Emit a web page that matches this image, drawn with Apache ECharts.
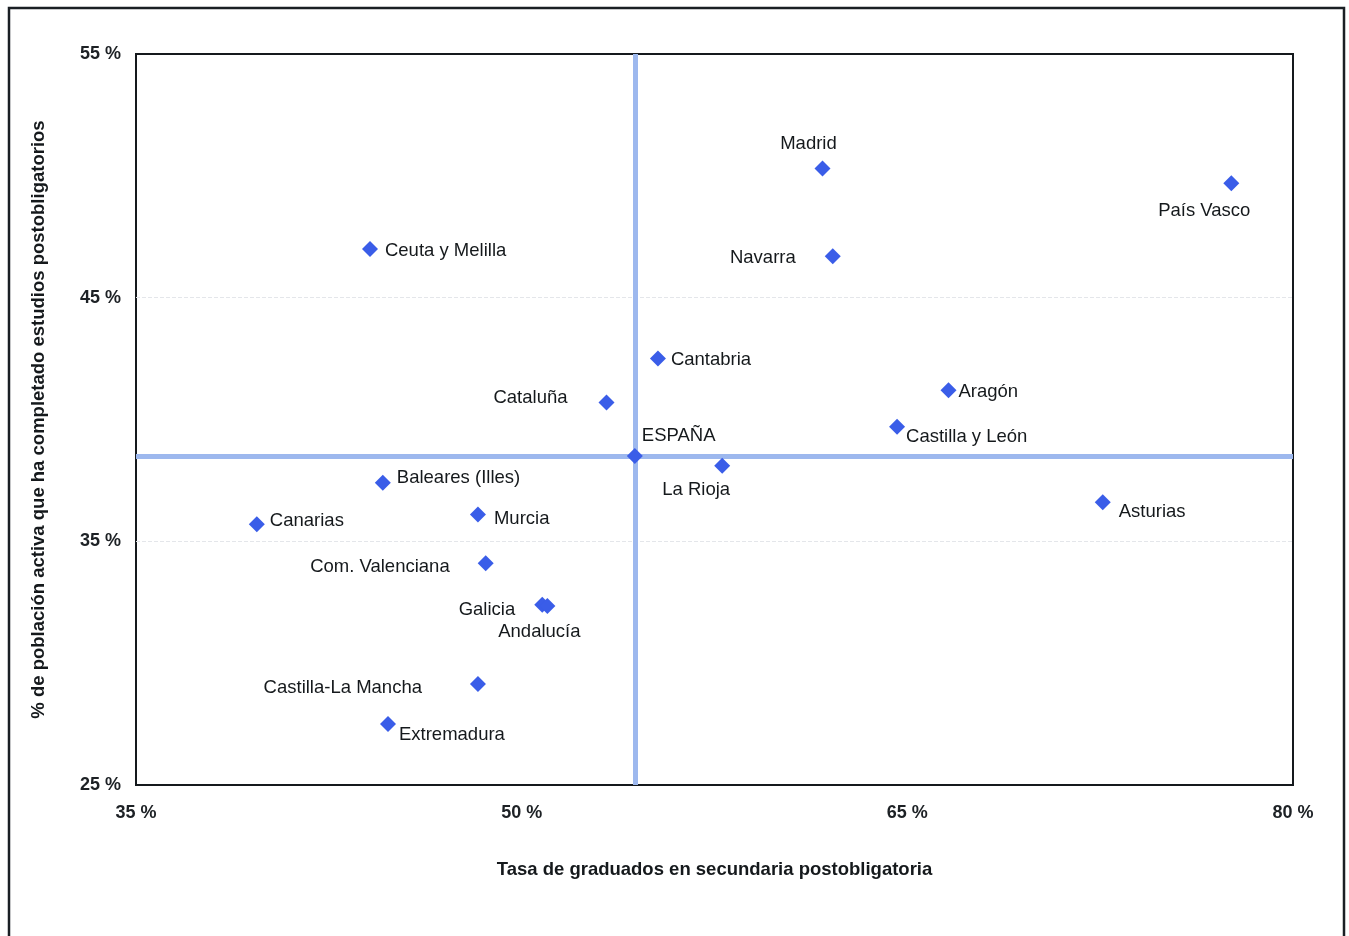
<!DOCTYPE html>
<html><head><meta charset="utf-8">
<script src="https://cdn.jsdelivr.net/npm/echarts@6/dist/echarts.min.js"></script>
<style>html,body{margin:0;padding:0;background:#fff}#c{width:1349px;height:936px}</style>
</head><body><div id="c"></div>
<script>
const regions = ["Madrid","País Vasco","Ceuta y Melilla","Navarra","Cantabria","Aragón","Cataluña","Castilla y León","ESPAÑA","La Rioja","Baleares (Illes)","Asturias","Murcia","Canarias","Com. Valenciana","Galicia","Andalucía","Castilla-La Mancha","Extremadura"];
const graduados = [61.7,77.6,44.1,62.1,55.3,66.6,53.3,64.6,54.4,57.8,44.6,72.6,48.3,39.7,48.6,50.8,51.0,48.3,44.8];
const poblacion = [50.3,49.7,47.0,46.7,42.5,41.2,40.7,39.7,38.5,38.1,37.4,36.6,36.1,35.7,34.1,32.4,32.35,29.15,27.5];
const espanaX = 54.4, espanaY = 38.5;
const xTicks = [35,50,65,80];
const yTicks = [25,35,45,55];
const gridValues = [35,45];

// label placement: [align, dx, dy]
const labelLayout = {
 "Madrid":["center",-14,-26],"País Vasco":["center",-27,26],"Ceuta y Melilla":["left",15,0],
 "Navarra":["right",-37,0],"Cantabria":["left",13,0],"Aragón":["left",10,0],"Cataluña":["right",-39,-6],
 "Castilla y León":["left",9,9],"ESPAÑA":["left",7,-22],"La Rioja":["center",-26,23],
 "Baleares (Illes)":["left",14,-6],"Asturias":["left",16,8],"Murcia":["left",16,3],"Canarias":["left",13,-5],
 "Com. Valenciana":["right",-36,2],"Galicia":["right",-27,4],"Andalucía":["center",-8,25],
 "Castilla-La Mancha":["right",-56,3],"Extremadura":["left",11,9]
};

const font = '"Liberation Sans", Arial, sans-serif';
const data = regions.map((r,i)=>{
  const l = labelLayout[r];
  return {name:r,value:[graduados[i],poblacion[i]],
    label:{show:true,position:'inside',align:l[0],verticalAlign:'middle',offset:[l[1],l[2]+1.5],formatter:r,
      fontFamily:font,fontSize:18.5,color:'#15191c'}};
});

const chart = echarts.init(document.getElementById('c'));
chart.setOption({
  backgroundColor:'#fff',
  animation:false,
  graphic:[{type:'rect',shape:{x:9,y:8,width:1335,height:940},style:{fill:'none',stroke:'#1a1f24',lineWidth:2.5},z:-1}],
  grid:{left:136,right:56,top:54,bottom:151,show:true,borderColor:'#15191d',borderWidth:2,backgroundColor:'transparent'},
  xAxis:{type:'value',min:35,max:80,interval:15,
    name:'Tasa de graduados en secundaria postobligatoria',nameLocation:'middle',nameGap:75,
    nameTextStyle:{fontFamily:font,fontSize:18.5,fontWeight:'bold',color:'#15191c'},
    axisLine:{show:false},axisTick:{show:false},splitLine:{show:false},
    axisLabel:{margin:19,fontFamily:font,fontSize:18,fontWeight:'bold',color:'#1d2125',
      formatter:v=>xTicks.includes(v)?v+' %':''}},
  yAxis:{type:'value',min:25,max:55,interval:10,
    name:'% de población activa que ha completado estudios postobligatorios',nameLocation:'middle',nameGap:88,
    nameTextStyle:{fontFamily:font,fontSize:18.5,fontWeight:'bold',color:'#15191c'},
    axisLine:{show:false},axisTick:{show:false},splitLine:{show:false},
    axisLabel:{margin:15,fontFamily:font,fontSize:18,fontWeight:'bold',color:'#1d2125',
      formatter:v=>yTicks.includes(v)?v+' %':''}},
  series:[{type:'scatter',symbol:'diamond',symbolSize:16,
    itemStyle:{color:'#3a5de8',opacity:1},
    data:data,z:5,
    markLine:{silent:true,symbol:'none',label:{show:false},z:1,
      lineStyle:{color:'#9db8ee',width:5,type:'solid'},
      data:[
        ...gridValues.map(v=>({yAxis:v,lineStyle:{color:'#e4e6ea',width:1,type:'dashed'}})),
        {xAxis:espanaX},{yAxis:espanaY}]}
  }]
});
</script></body></html>
